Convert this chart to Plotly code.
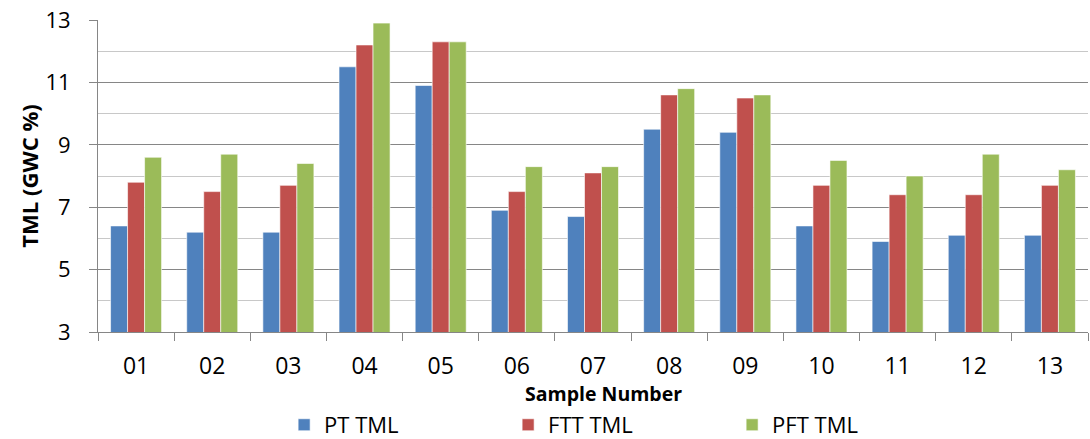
import plotly.graph_objects as go

samples = ["01", "02", "03", "04", "05", "06", "07", "08", "09", "10", "11", "12", "13"]
pt_tml = [6.4, 6.2, 6.2, 11.5, 10.9, 6.9, 6.7, 9.5, 9.4, 6.4, 5.9, 6.1, 6.1]
ftt_tml = [7.8, 7.5, 7.7, 12.2, 12.3, 7.5, 8.1, 10.6, 10.5, 7.7, 7.4, 7.4, 7.7]
pft_tml = [8.6, 8.7, 8.4, 12.9, 12.3, 8.3, 8.3, 10.8, 10.6, 8.5, 8.0, 8.7, 8.2]

series = [("PT TML", pt_tml, "#4F81BD"), ("FTT TML", ftt_tml, "#C0504D"), ("PFT TML", pft_tml, "#9BBB59")]

font_family = "Open Sans, Liberation Sans, sans-serif"

fig = go.Figure()
for name, vals, color in series:
    fig.add_trace(go.Bar(
        x=samples, y=vals, name=name,
        marker=dict(color=color, line=dict(color="rgba(255,255,255,0.6)", width=1)),
    ))

fig.update_layout(
    width=1090, height=439,
    margin=dict(l=98, r=2, t=20, b=107),
    paper_bgcolor="white", plot_bgcolor="white",
    barmode="group", bargap=0.33, bargroupgap=0,
    font=dict(family=font_family, size=20, color="black"),
    legend=dict(orientation="h", x=0.188, xanchor="left", yref="container", y=0.032, yanchor="middle",
                entrywidth=179, font=dict(size=22), traceorder="normal"),
    showlegend=True,
    annotations=[dict(text="<b>Sample Number</b>", xref="paper", yref="paper",
                      x=0.511, y=-0.198, xanchor="center", yanchor="middle",
                      showarrow=False, font=dict(size=19.5))],
)
fig.update_xaxes(
    type="category", showline=True, linecolor="#868686", linewidth=1,
    ticks="outside", tickson="boundaries", ticklen=8, tickcolor="#868686",
    showgrid=False, automargin=False,
    tickfont=dict(size=23), ticklabelstandoff=13,
)
fig.update_yaxes(
    range=[3, 13], dtick=2, tick0=3,
    showline=True, linecolor="#868686", linewidth=1,
    ticks="outside", ticklen=8, tickcolor="#868686",
    showgrid=True, gridcolor="#868686", gridwidth=1,
    minor=dict(dtick=1, tick0=3, showgrid=True, gridcolor="#C8C8C8", gridwidth=1, ticks=""),
    zeroline=False, automargin=False,
    title=dict(text="<b>TML (GWC %)</b>", standoff=0, font=dict(size=22)),
    tickfont=dict(size=22), ticklabelstandoff=14,
)

fig.write_html("out.html")
